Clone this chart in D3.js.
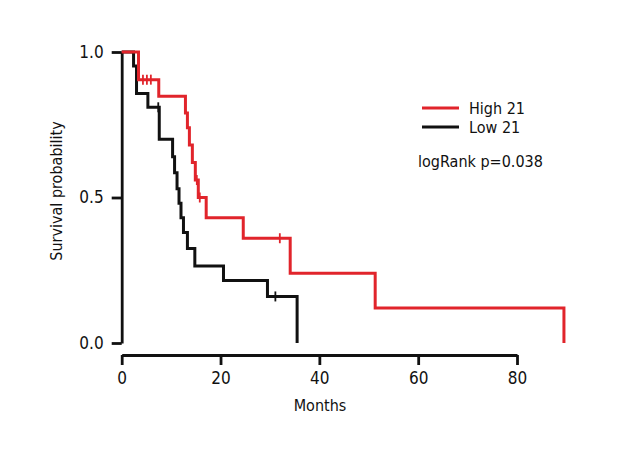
<!DOCTYPE html>
<html>
<head>
  <meta charset="utf-8">
  <title>KM curve</title>
  <style>
    body { margin: 0; background: #fff; }
    text { font-family: "Liberation Sans Narrow", "DejaVu Sans Condensed", sans-serif; font-stretch: condensed; fill: #111; }
  </style>
</head>
<body>
  <script src="https://d3js.org/d3.v7.min.js" charset="utf-8"></script>

  <script>
      // High group (red)
      var highTime = [0, 3.4, 7.5, 12.9, 13.3, 13.7, 14.3, 14.9, 15.5, 17.1, 24.6, 34.1, 51.3, 89.5];
      var highSurv = [1.0, 0.905, 0.848, 0.79, 0.74, 0.68, 0.62, 0.56, 0.50, 0.43, 0.36, 0.24, 0.12, 0.0];
      var highCensorTime = [4.3, 5.1, 5.9, 15.2, 15.8, 32.0];
      var highCensorSurv = [0.905, 0.905, 0.905, 0.56, 0.50, 0.36];

      // Low group (black)
      var lowTime = [0, 2.4, 3.0, 5.3, 7.6, 10.3, 10.7, 11.2, 11.6, 12.0, 12.5, 13.3, 14.8, 20.6, 29.5, 35.5];
      var lowSurv = [1.0, 0.952, 0.857, 0.81, 0.70, 0.64, 0.585, 0.53, 0.48, 0.43, 0.38, 0.325, 0.265, 0.215, 0.16, 0.0];
      var lowCensorTime = [7.4, 31.1];
      var lowCensorSurv = [0.81, 0.16];

      var xTicks = [0, 20, 40, 60, 80];
      var yTicks = [0, 0.5, 1.0];
      var legendLabels = ["High 21", "Low 21"];
      var pText = "logRank p=0.038";

      var w = 620, h = 460;
      var red = "#e1242b", black = "#111";

      var svg = d3.select("body").append("svg").attr("width", w).attr("height", h);

      var x = d3.scaleLinear().domain([0, 80]).range([121.7, 517]);
      var y = d3.scaleLinear().domain([0, 1]).range([343, 52]);

      // x axis (offset below plot)
      var xAxis = svg.append("g")
        .attr("transform", "translate(0,355)")
        .call(d3.axisBottom(x).tickValues(xTicks).tickSize(10).tickSizeOuter(0).tickPadding(7));

      // y axis
      var yAxis = svg.append("g")
        .attr("transform", "translate(121.7,0)")
        .call(d3.axisLeft(y).tickValues(yTicks).tickSize(10).tickSizeOuter(0).tickPadding(8)
          .tickFormat(d3.format(".1f")));

      [xAxis, yAxis].forEach(function(g){
        g.attr("font-family", null);
        g.select(".domain").attr("stroke", black).attr("stroke-width", 2.8);
        g.selectAll(".tick line").attr("stroke", black).attr("stroke-width", 2.8);
        g.selectAll(".tick text").attr("font-size", 17).attr("fill", "#111");
      });

      svg.append("text").attr("x", 320).attr("y", 411)
        .attr("text-anchor", "middle").attr("font-size", 16).text("Months");
      svg.append("text")
        .attr("transform", "translate(62,191) rotate(-90)")
        .attr("text-anchor", "middle").attr("font-size", 16).text("Survival probability");

      var line = d3.line()
        .x(function(d){ return x(d[0]); })
        .y(function(d){ return y(d[1]); })
        .curve(d3.curveStepAfter);

      function drawCurve(times, survs, ct, cs, color){
        var pts = times.map(function(t, i){ return [t, survs[i]]; });
        svg.append("path").datum(pts)
          .attr("d", line)
          .attr("fill", "none")
          .attr("stroke", color)
          .attr("stroke-width", 3);
        svg.selectAll(null)
          .data(ct.map(function(t, i){ return [t, cs[i]]; }))
          .enter()
          .append("line")
          .attr("x1", function(d){ return x(d[0]); })
          .attr("x2", function(d){ return x(d[0]); })
          .attr("y1", function(d){ return y(d[1]) - 5; })
          .attr("y2", function(d){ return y(d[1]) + 5; })
          .attr("stroke", color)
          .attr("stroke-width", 1.8);
      }

      drawCurve(lowTime, lowSurv, lowCensorTime, lowCensorSurv, black);
      drawCurve(highTime, highSurv, highCensorTime, highCensorSurv, red);

      // legend
      var colors = [red, black];
      var leg = svg.selectAll(".leg")
        .data(legendLabels)
        .enter()
        .append("g")
        .attr("transform", function(d, i){ return "translate(422," + (108 + i * 19) + ")"; });
      leg.append("line")
        .attr("x1", 0).attr("x2", 37)
        .attr("stroke", function(d, i){ return colors[i]; })
        .attr("stroke-width", 3);
      leg.append("text")
        .attr("x", 47).attr("dy", "0.35em")
        .attr("font-size", 16)
        .text(function(d){ return d; });

      svg.append("text").attr("x", 418).attr("y", 161).attr("dy", "0.35em")
        .attr("font-size", 16).text(pText);
  </script>
</body>
</html>
